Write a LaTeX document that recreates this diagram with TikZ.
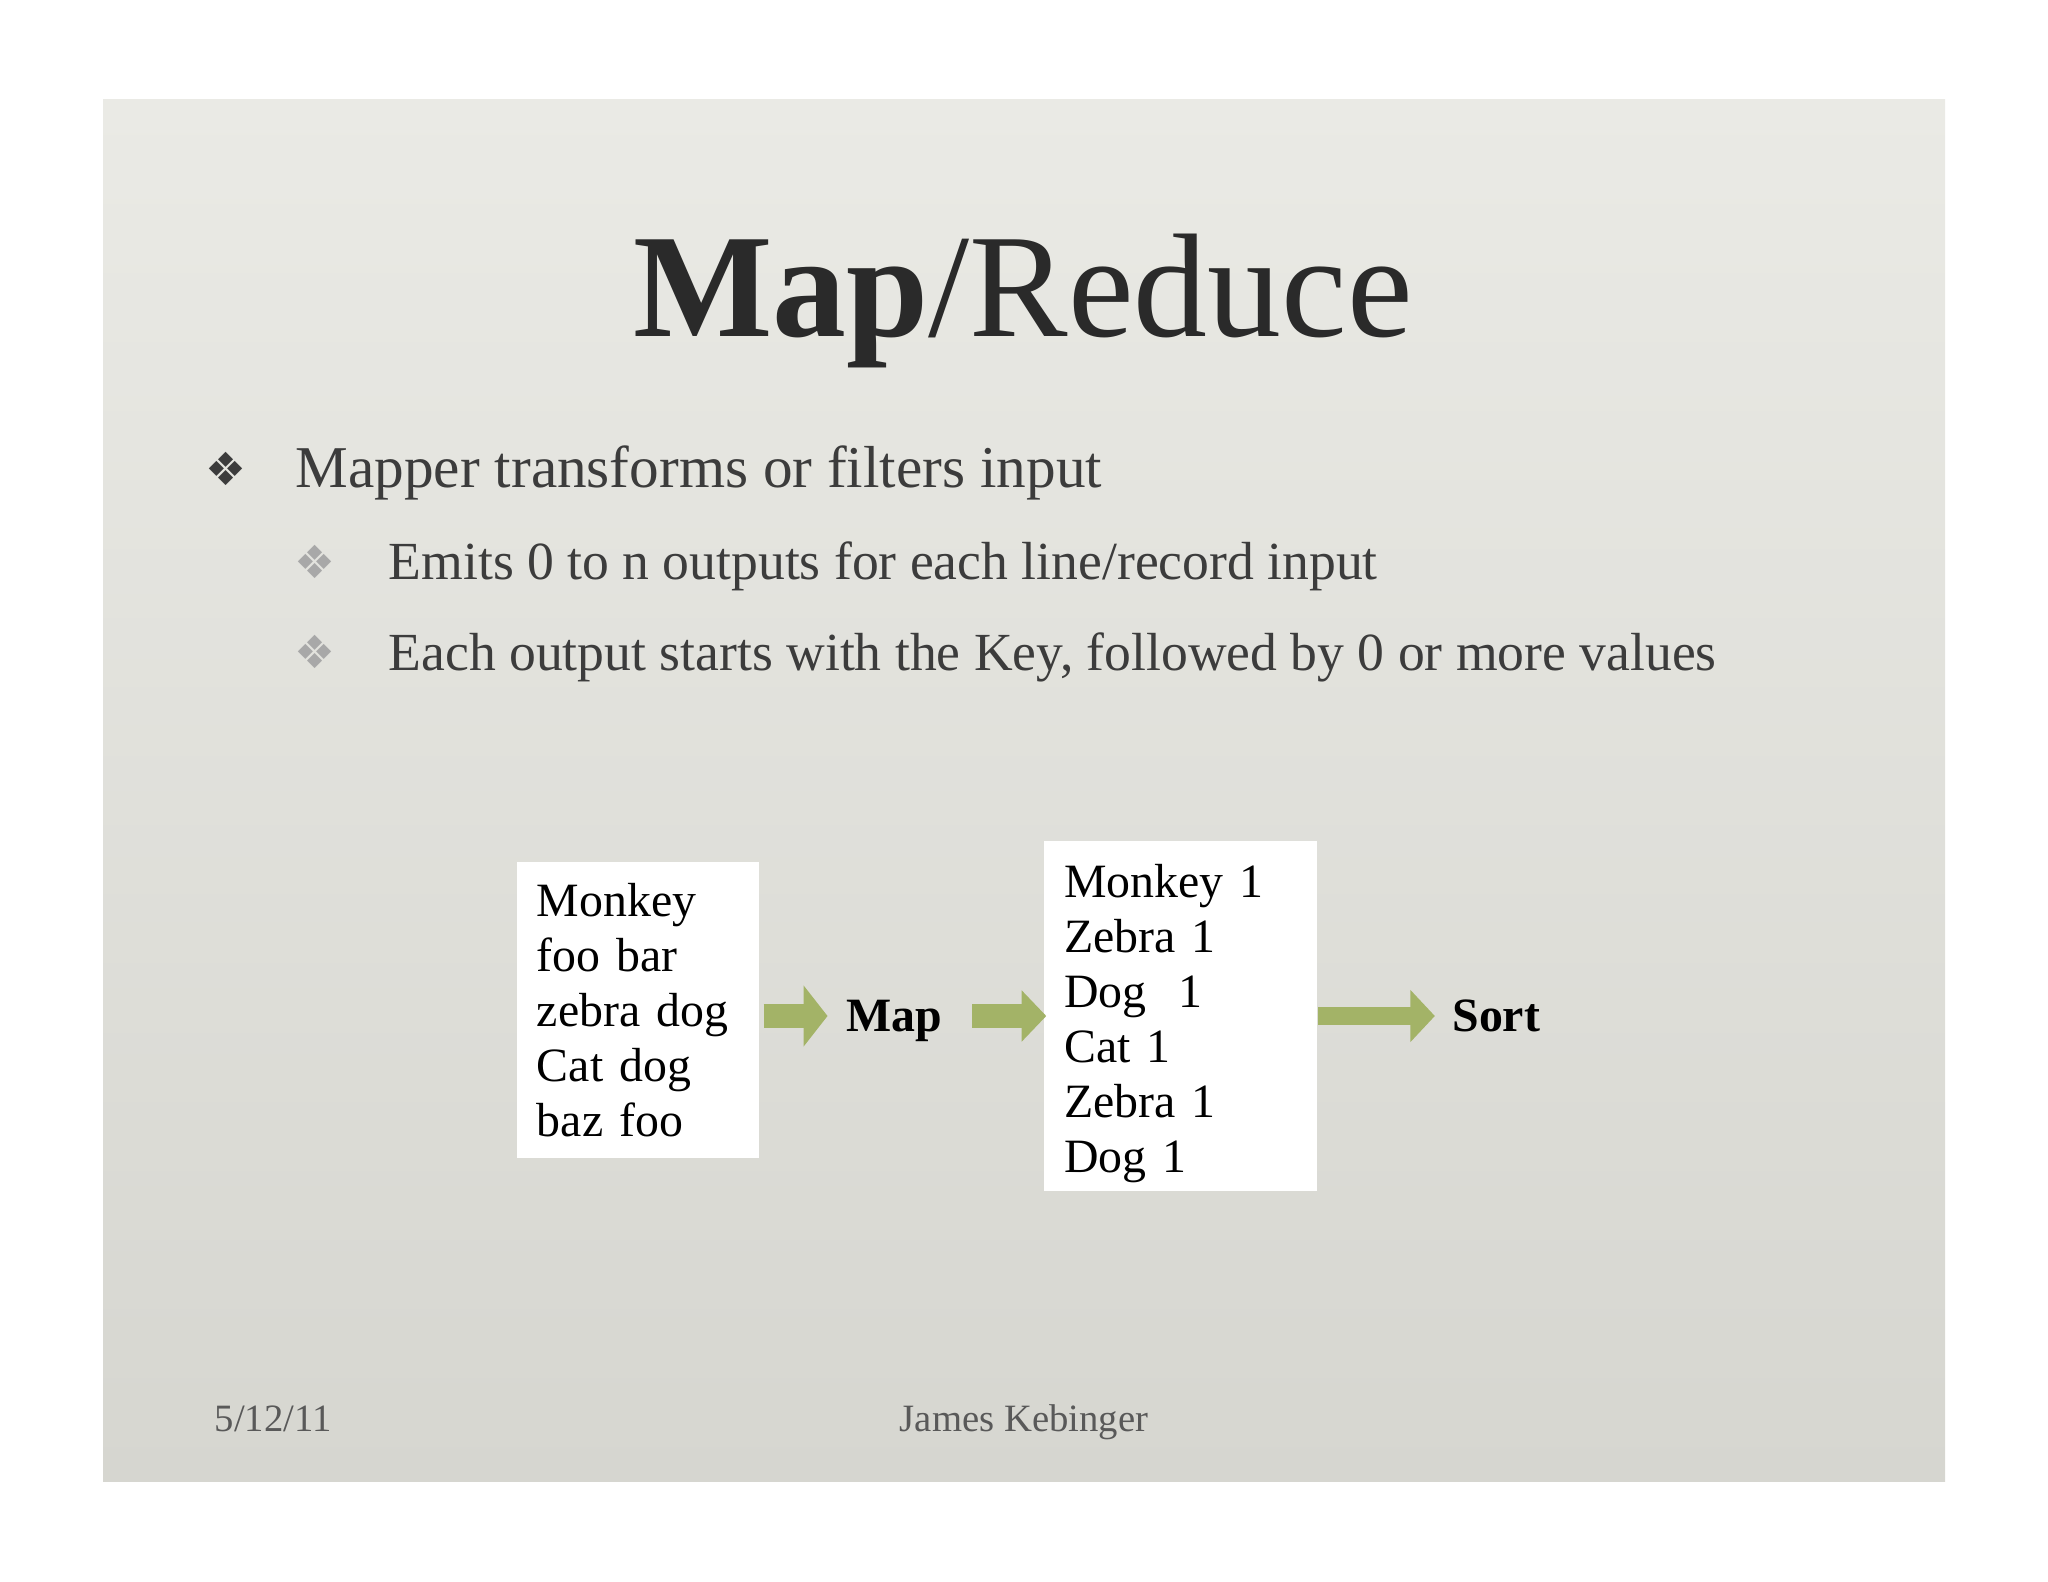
\documentclass[tikz,border=0pt]{standalone}
\usepackage{fontspec}
\setmainfont{Liberation Serif}
\newfontfamily\symfont{DejaVu Sans}
\usetikzlibrary{positioning,arrows.meta}
\definecolor{slidetop}{HTML}{EAEAE5}
\definecolor{slidebot}{HTML}{D6D6D0}
\definecolor{inkdark}{HTML}{2A2A2A}
\definecolor{inkbody}{HTML}{3C3C3C}
\definecolor{inkfoot}{HTML}{595959}
\definecolor{bulletgray}{HTML}{A8A8A8}
\definecolor{mapgreen}{HTML}{A3B367}

\begin{document}
\begin{tikzpicture}[
  x=0.01cm, y=-0.01cm,
  slidetitle/.style={
    font=\fontsize{42}{48}\selectfont,
    text=inkdark,
    inner sep=0pt,
  },
  lvlone/.style={
    font=\fontsize{16.85}{20}\selectfont,
    text=inkbody,
    inner sep=0pt,
    anchor=base west,
  },
  lvltwo/.style={
    font=\fontsize{15.25}{18}\selectfont,
    text=inkbody,
    inner sep=0pt,
    anchor=base west,
  },
  dia/.style={
    font=\symfont\fontsize{13}{13}\selectfont,
    inner sep=0pt,
  },
  card/.style={
    fill=white,
    shape=rectangle,
    align=left,
    inner xsep=5.7pt,
    inner ysep=0pt,
    font=\fontsize{13.6}{15.65}\selectfont,
  },
  lbl/.style={
    font=\fontsize{13.6}{15}\selectfont\bfseries,
    text height=9pt,
    text depth=0pt,
    inner sep=0pt,
  },
  flow/.style={
    draw=mapgreen,
    line width=6.8pt,
  },
  foot/.style={
    font=\fontsize{11}{13}\selectfont,
    text=inkfoot,
    inner sep=0pt,
  }]
  \useasboundingbox (0,0) rectangle (2048,1582);
  \fill[top color=slidetop, bottom color=slidebot] (103,100) rectangle (1945,1481);

  % heading and bullets
  \node[slidetitle, anchor=base] (head) at (1023,337) {\textbf{Map}/Reduce};
  \node[lvlone] (b1) at (295,487) {Mapper transforms or filters input};
  \node[lvltwo] (b2) at (388,579) {Emits 0 to n outputs for each line/record input};
  \node[lvltwo] (b3) at (388,670) {Each output starts with the Key, followed by 0 or more values};
  \node[dia, text=inkbody] (d1) at (226,469) {❖};
  \node[dia, text=bulletgray] (d2) at (315,562) {❖};
  \node[dia, text=bulletgray] (d3) at (315,652) {❖};

  % map step
  \node[card, minimum width=68.9pt, minimum height=84.2pt, text width=57.5pt] (input) at (638,1010)
    {Monkey\\foo bar\\zebra dog\\Cat dog\\baz foo};
  \node[lbl] (map) at (894,1016) {Map};
  \node[card, minimum width=77.7pt, minimum height=99.6pt, text width=66.3pt, right=28.7pt of map] (pairs)
    {\rule{0pt}{13.6pt}Monkey 1\\Zebra 1\\Dog\ \ 1\\Cat 1\\Zebra 1\\Dog 1};
  \node[lbl, right=38pt of pairs] (sort) {Sort};

  \draw[flow, -{Triangle[length=6.8pt,width=17pt]}, shorten <=1.1pt, shorten >=5.1pt]
    (input.east |- map) -- (map.west);
  \draw[flow, -{Triangle[length=7pt,width=14.2pt]}, shorten <=8.5pt, shorten >=-0.8pt]
    (map.east) -- (pairs.west |- map);
  \draw[flow, line width=5.1pt, -{Triangle[length=7pt,width=14.5pt]}, shorten >=4.8pt]
    (pairs.east) -- (sort.west);

  % footer
  \node[foot, anchor=base west] (date) at (214,1431) {5/12/11};
  \node[foot, anchor=base] (author) at (1024,1431) {James Kebinger};
\end{tikzpicture}
\end{document}
